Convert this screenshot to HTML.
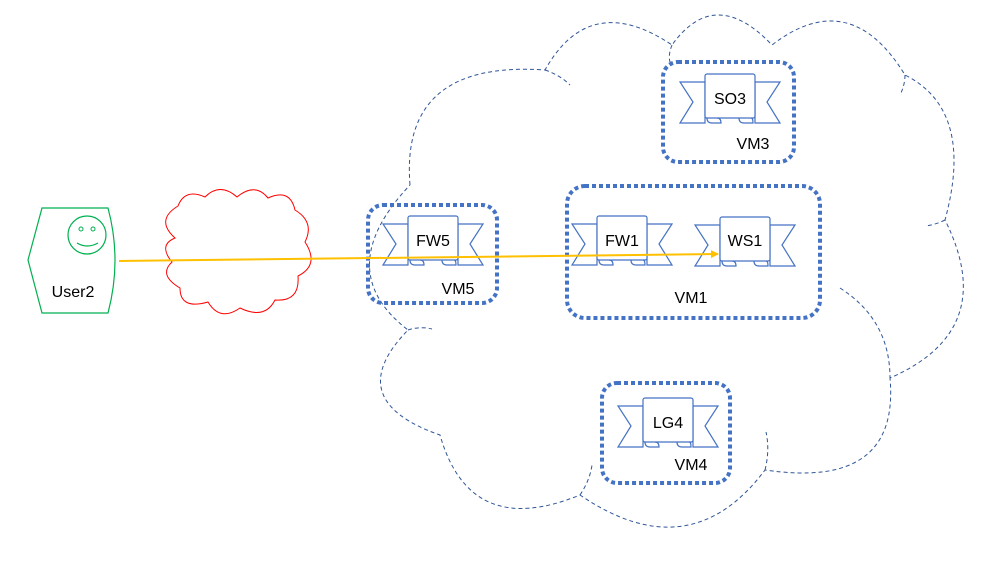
<!DOCTYPE html>
<html><head><style>
body{margin:0;background:#fff;}
svg{display:block;font-family:"Liberation Sans",sans-serif;}
</style></head><body>
<svg width="1000" height="563" viewBox="0 0 1000 563">
<defs>
<g id="rib" fill="#fff" stroke="#4472c4" stroke-width="1.2">
  <path d="M0,8 L-25,8 L-12,28 L-25,49 L0,49 Z M50,8 L75,8 L62,28 L75,49 L50,49 Z"/>
  <path d="M2,44 Q2,49 7,49 L16,49 Q16,44 12,44 M34,44 Q34,49 39,49 L48,49 Q48,44 46,44"/>
  <rect x="0" y="0" width="50" height="44" rx="2"/>
</g>
<marker id="ar" markerWidth="8" markerHeight="8" refX="7" refY="4" orient="auto" markerUnits="userSpaceOnUse">
  <path d="M0,0 L8,4 L0,8 Z" fill="#ffc000"/>
</marker>
</defs>
<!-- big cloud -->
<g fill="none" stroke="#2f5597" stroke-width="1" stroke-dasharray="4 3">
<path d="M410,185 Q400,60 545,70 Q590,-10 672,45 Q715,-15 772,45 Q850,-15 905,75 Q975,110 945,220 Q1000,330 890,378 Q900,490 765,470 Q690,570 580,495 Q470,540 440,435 Q340,400 408,330 Q330,270 410,185"/>
<path d="M408,330 Q420,326 432,329"/>
<path d="M840,288 Q890,320 890,378"/>
<path d="M765,470 Q770,450 766,432"/>
<path d="M580,495 Q590,480 592,465"/>
<path d="M945,220 Q935,225 925,226"/>
<path d="M905,75 Q905,85 900,95"/>
<path d="M672,45 Q668,55 670,62"/>
<path d="M545,70 Q560,75 570,85"/>
</g>
<!-- red cloud -->
<path fill="#fff" stroke="#ff0000" stroke-width="1" d="M175,238 Q155,220 178,206 Q185,188 205,197 Q220,182 237,197 Q255,182 268,198 Q290,188 295,210 Q315,222 305,242 Q320,265 298,276 Q300,302 275,300 Q265,320 240,308 Q220,322 208,302 Q180,310 180,288 Q158,275 172,262 Q158,245 175,238 Z"/>
<!-- user -->
<path d="M42,208 L108,208 Q122,260 108,313 L42,313 L28,260 Z" fill="#fff" stroke="#00b050" stroke-width="1.2"/>
<circle cx="87" cy="235" r="19" fill="none" stroke="#00b050" stroke-width="1.2"/>
<circle cx="81" cy="229" r="2" fill="none" stroke="#00b050"/>
<circle cx="93" cy="229" r="2" fill="none" stroke="#00b050"/>
<path d="M77,243 Q87,249 98,243" fill="none" stroke="#00b050" stroke-width="1.2"/>
<text x="73" y="297" font-size="16" text-anchor="middle" fill="#000">User2</text>
<!-- dotted VM boxes -->
<g fill="none" stroke="#4472c4" stroke-width="4" stroke-dasharray="4 3">
<rect x="368" y="205" width="129" height="98" rx="15"/>
<rect x="567" y="186" width="253" height="132" rx="18"/>
<rect x="663" y="62" width="131" height="100" rx="15"/>
<rect x="602" y="383" width="128" height="100" rx="15"/>
</g>
<use href="#rib" x="408" y="216"/>
<use href="#rib" x="597" y="216"/>
<use href="#rib" x="720" y="217"/>
<use href="#rib" x="705" y="74"/>
<use href="#rib" x="643" y="398"/>
<g font-size="16" fill="#000" text-anchor="middle">
<text x="433" y="246">FW5</text>
<text x="622" y="246">FW1</text>
<text x="745" y="246">WS1</text>
<text x="730" y="104">SO3</text>
<text x="668" y="428">LG4</text>
<text x="458" y="294">VM5</text>
<text x="691" y="303">VM1</text>
<text x="753" y="149">VM3</text>
<text x="691" y="470">VM4</text>
</g>
<line x1="119" y1="261" x2="718" y2="254" stroke="#ffc000" stroke-width="2" marker-end="url(#ar)"/>
</svg>
</body></html>
